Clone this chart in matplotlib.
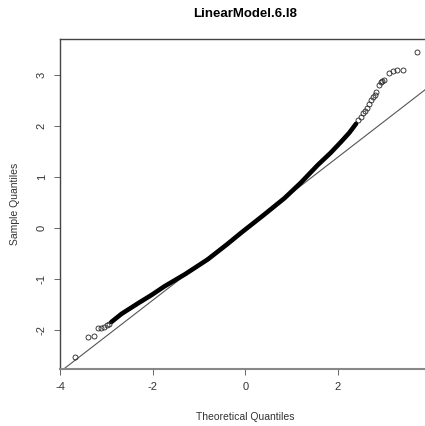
import matplotlib
matplotlib.use("Agg")
import matplotlib.pyplot as plt

plt.rcParams['font.family'] = ['Liberation Sans', 'DejaVu Sans']
plt.rcParams['axes.unicode_minus'] = False

# dense middle of the QQ curve (theoretical, sample)
band_theor = [-2.90, -2.68, -2.30, -2.03, -1.75, -1.30, -0.81, -0.40, -0.09, 0.40, 0.85, 1.20, 1.57, 1.85, 2.08, 2.25, 2.40]
band_sample = [-1.84, -1.68, -1.46, -1.31, -1.14, -0.90, -0.61, -0.32, -0.09, 0.26, 0.59, 0.89, 1.24, 1.48, 1.70, 1.87, 2.05]

# sparse tail points
tail_theor = [-3.69, -3.40, -3.27, -3.19, -3.12, -3.06, -3.00, -2.95,
              2.45, 2.50, 2.55, 2.60, 2.64, 2.68, 2.73, 2.77, 2.81, 2.84, 2.90, 2.94, 2.97, 3.01,
              3.12, 3.20, 3.29, 3.41, 3.72]
tail_sample = [-2.53, -2.13, -2.11, -1.96, -1.95, -1.93, -1.90, -1.88,
               2.12, 2.18, 2.25, 2.30, 2.36, 2.44, 2.52, 2.58, 2.62, 2.68, 2.80, 2.86, 2.88, 2.91,
               3.04, 3.08, 3.10, 3.10, 3.45]

# qqline
line_slope = 0.70
line_intercept = -0.01

fig = plt.figure(figsize=(4.25, 4.26), dpi=100)
ax = fig.add_axes([60 / 425, 57 / 426, 369.6 / 425, 330 / 426])

ax.plot(band_theor, band_sample, color='black', lw=3.3, solid_capstyle='round', zorder=3)
ax.plot(tail_theor, tail_sample, 'o', mfc='none', mec='#222222', ms=3.6, mew=0.6, zorder=3)

ax.axline((0, line_intercept), slope=line_slope, color='#555555', lw=0.8, zorder=2)

ax.set_xlim(-4.01, 3.99)
ax.set_ylim(-2.76, 3.71)

ax.set_xticks([-4, -2, 0, 2])
ax.set_yticks([-2, -1, 0, 1, 2, 3])
ax.tick_params(direction='out', length=4.5, width=0.7, color='#666666',
               labelsize=8, labelcolor='#333333')
ax.tick_params(axis='x', pad=5)
ax.tick_params(axis='y', pad=5)
for lab in ax.get_yticklabels():
    lab.set_rotation(90)
    lab.set_va('center')

for s in ['left', 'top']:
    ax.spines[s].set_color('#444444')
    ax.spines[s].set_linewidth(1.0)
ax.spines['bottom'].set_color('#888888')
ax.spines['bottom'].set_linewidth(1.5)
ax.spines['right'].set_visible(False)

ax.set_xlabel('Theoretical Quantiles', fontsize=7.5, color='#333333', labelpad=14)
ax.set_ylabel('Sample Quantiles', fontsize=7.5, color='#333333', labelpad=12)
fig.text(245 / 425, 1 - 14 / 426, 'LinearModel.6.l8', ha='center', va='center',
         fontsize=9.5, fontweight='bold')

fig.savefig('out.png', dpi=100)
